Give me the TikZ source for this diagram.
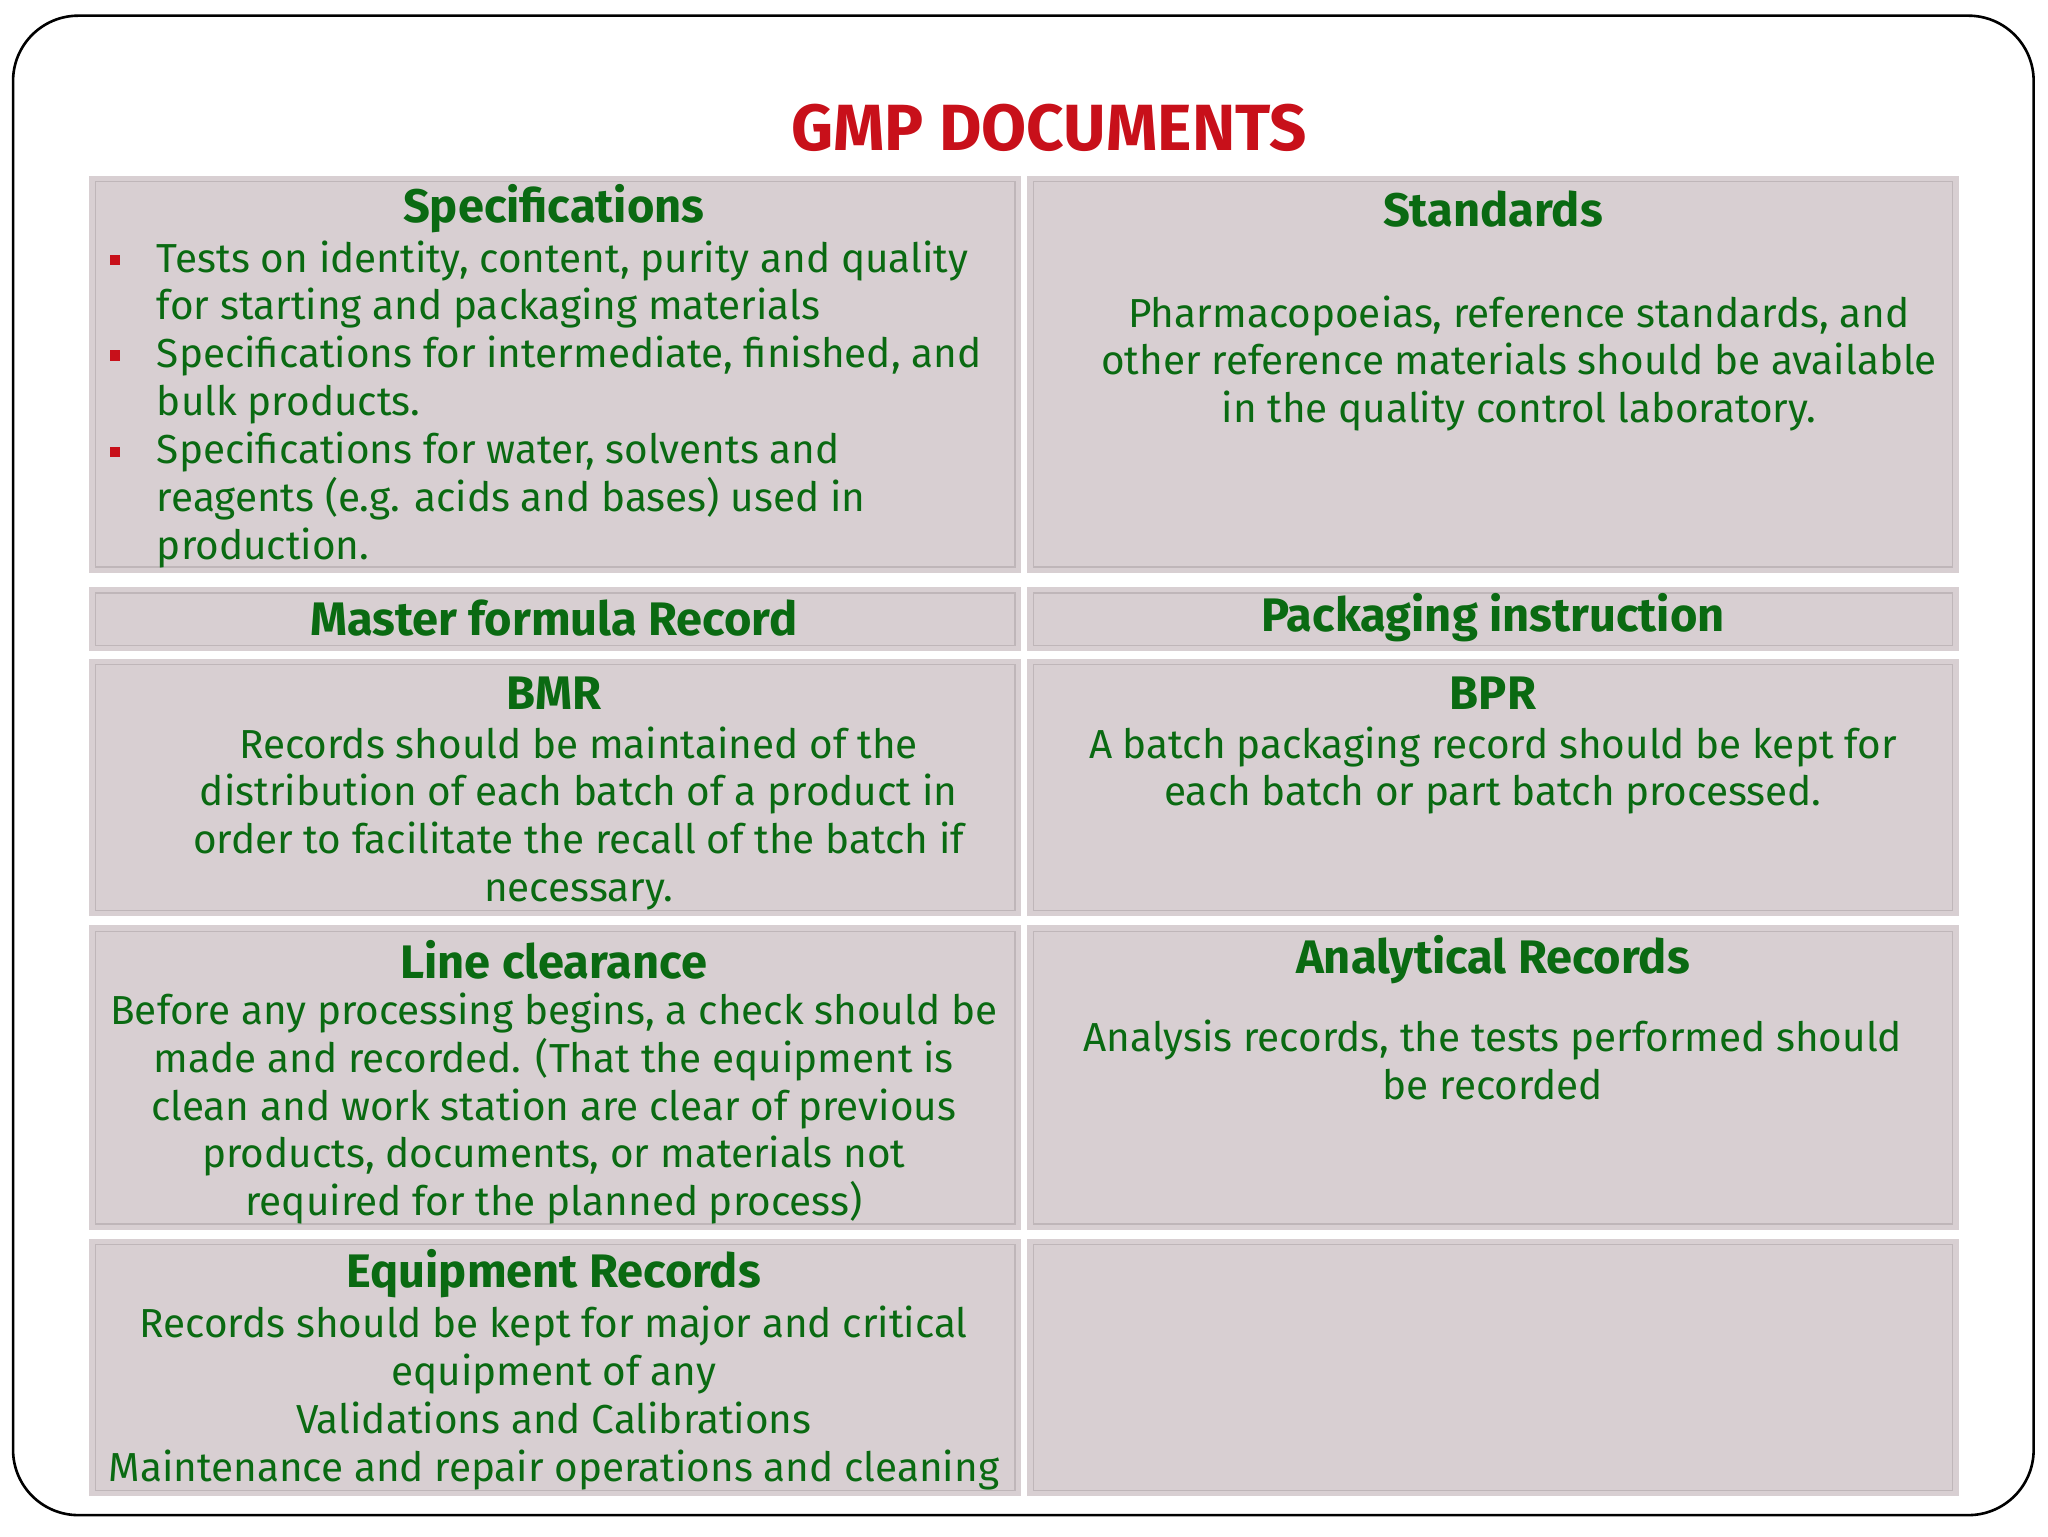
\documentclass[tikz,border=0pt]{standalone}
\usepackage{fontspec}
\setmainfont{Fira Sans}
\definecolor{cellc}{HTML}{D8CFD2}
\definecolor{edgec}{HTML}{BFB6B9}
\definecolor{txtg}{HTML}{0A6A12}
\definecolor{titr}{HTML}{C8101A}
\begin{document}
\begin{tikzpicture}[x=1pt,y=-1pt,
  cell/.style={fill=cellc,draw=white,line width=3pt},
  hd/.style={text=txtg,font=\fontsize{36}{38}\selectfont\bfseries,inner sep=0pt},
  bd/.style={text=txtg,font=\fontsize{31}{36.6}\selectfont,inner sep=0pt,align=center,anchor=north},
  bl/.style={fill=titr,minimum size=8pt,inner sep=0pt}]
\useasboundingbox (0,0) rectangle (1568,1176);
\fill[white] (0,0) rectangle (1568,1176);
\draw[line width=2pt,rounded corners=50pt] (10,12) rectangle (1557,1160);
\node[text=titr,font=\fontsize{50}{54}\selectfont\bfseries,inner sep=0pt] (title) at (803,98) {GMP DOCUMENTS};
% cells
\foreach \a/\b/\c/\d in {67/133/783/440, 785/133/1501/440, 67/448/783/500, 785/448/1501/500, 67/503/783/703, 785/503/1501/703, 67/707/783/943, 785/707/1501/943, 67/947/783/1147, 785/947/1501/1147}{
  \draw[cell] (\a,\b) rectangle (\c,\d);
  \draw[edgec,line width=1pt] (\a+6,\b+6) rectangle (\c-6,\d-6);
}
\node[hd] (h1) at (424,160) {Specifications};
\node[bl] (b1) at (88,199) {};
\node[bl] (b2) at (88,272) {};
\node[bl] (b3) at (88,346) {};
\node[bd,anchor=north west,align=left] (t1) at (120,184) {Tests on identity, content, purity and quality\\for starting and packaging materials\\Specifications for intermediate, finished, and\\bulk products.\\Specifications for water, solvents and\\reagents (e.g. acids and bases) used in\\production.};
\node[hd] (h2) at (1143,160) {Standards};
\node[bd] (t2) at (1163,226) {Pharmacopoeias, reference standards, and\\other reference materials should be available\\in the quality control laboratory.};
\node[hd] (h3) at (424,473) {Master formula Record};
\node[hd] (h4) at (1143,473) {Packaging instruction};
\node[hd] (h5) at (424,531) {BMR};
\node[bd] (t5) at (443,556) {Records should be maintained of the\\distribution of each batch of a product in\\order to facilitate the recall of the batch if\\necessary.};
\node[hd] (h6) at (1143,531) {BPR};
\node[bd] (t6) at (1143,556) {A batch packaging record should be kept for\\each batch or part batch processed.};
\node[hd] (h7) at (424,735) {Line clearance};
\node[bd] (t7) at (424,760) {Before any processing begins, a check should be\\made and recorded. (That the equipment is\\clean and work station are clear of previous\\products, documents, or materials not\\required for the planned process)};
\node[hd] (h8) at (1143,735) {Analytical Records};
\node[bd] (t8) at (1143,781) {Analysis records, the tests performed should\\be recorded};
\node[hd] (h9) at (424,975) {Equipment Records};
\node[bd] (t9) at (424,1000) {Records should be kept for major and critical\\equipment of any\\Validations and Calibrations\\Maintenance and repair operations and cleaning};
\end{tikzpicture}
\end{document}
